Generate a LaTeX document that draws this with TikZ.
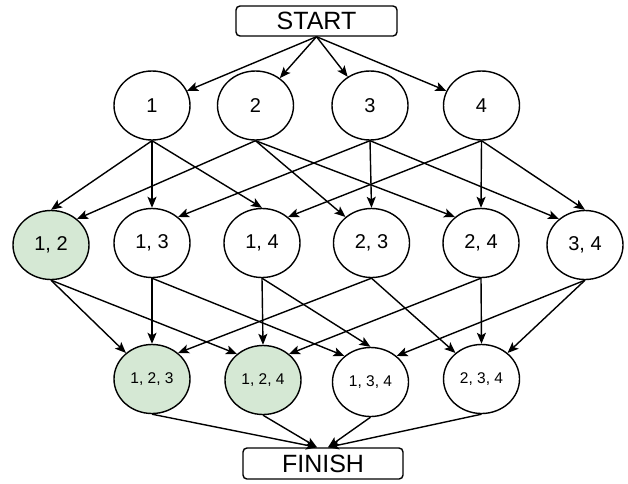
\documentclass[tikz,border=0pt]{standalone}
\usepackage{fontspec}
\setmainfont{Liberation Sans}
\usetikzlibrary{arrows.meta,shapes.geometric}
\definecolor{setgreen}{HTML}{D5E8D4}
\tikzset{
  every picture/.style={x=1pt,y=-1pt},
  stateell/.style={ellipse, draw=black, line width=1.4pt, fill=white, minimum width=76pt, minimum height=69pt, inner sep=0pt, font=\fontsize{20}{24}\selectfont},
  tripleell/.style={stateell, font=\fontsize{15.5}{18}\selectfont},
  chosen/.style={fill=setgreen},
  endbox/.style={rectangle, rounded corners=4pt, draw=black, line width=1.4pt, fill=white, inner sep=0pt, font=\fontsize{25}{28}\selectfont},
  link/.style={line width=1.4pt, -{Stealth[length=11pt,width=9pt,inset=2.5pt]}}
}
\begin{document}
\begin{tikzpicture}
\useasboundingbox (0,0) rectangle (628,483);
% boxes
\node[endbox, minimum width=161pt, minimum height=30pt] (start) at (316.5,21) {START};
\node[endbox, minimum width=160pt, minimum height=31pt] (fin) at (323,463.5) {FINISH};
% row 1
\node[stateell] (a1) at (152,105.5) {1};
\node[stateell] (a2) at (255.5,105.5) {2};
\node[stateell] (a3) at (370,105.5) {3};
\node[stateell] (a4) at (481.5,105.5) {4};
% row 2
\node[stateell, chosen] (b12) at (51,245) {1, 2};
\node[stateell] (b13) at (152,243) {1, 3};
\node[stateell] (b14) at (262,243) {1, 4};
\node[stateell] (b23) at (371.5,243) {2, 3};
\node[stateell] (b24) at (481,243) {2, 4};
\node[stateell] (b34) at (585,245) {3, 4};
% row 3
\node[tripleell, chosen] (c123) at (152,379) {1, 2, 3};
\node[tripleell, chosen] (c124) at (263,380) {1, 2, 4};
\node[tripleell] (c134) at (370.5,382) {1, 3, 4};
\node[tripleell] (c234) at (481.5,379) {2, 3, 4};
% start -> row 1
\foreach \t in {a1,a2,a3,a4} \draw[link] (start.south) -- (\t);
% row 1 -> row 2
\draw[link] (a1.south) -- (b12.north);
\draw[link] (a1.south) -- (b13.north);
\draw[link] (a1.south) -- (b14.north);
\draw[link] (a2.south) -- (b12.45);
\draw[link] (a2.south) -- (b23.135);
\draw[link] (a2.south) -- (b24.135);
\draw[link] (a3.south) -- (b13.45);
\draw[link] (a3.south) -- (b23.north);
\draw[link] (a3.south) -- (b34.135);
\draw[link] (a4.south) -- (b14.45);
\draw[link] (a4.south) -- (b24.north);
\draw[link] (a4.south) -- (b34.north);
% row 2 -> row 3
\draw[link] (b12.south) -- (c123.135);
\draw[link] (b12.south) -- (c124.135);
\draw[link] (b13.south) -- (c123.north);
\draw[link] (b13.south) -- (c134.135);
\draw[link] (b14.south) -- (c124.north);
\draw[link] (b14.south) -- (c134.north);
\draw[link] (b23.south) -- (c123.45);
\draw[link] (b23.south) -- (c234.135);
\draw[link] (b24.south) -- (c124.45);
\draw[link] (b24.south) -- (c234.north);
\draw[link] (b34.south) -- (c134.45);
\draw[link] (b34.south) -- (c234.45);
% row 3 -> finish
\draw[link] (c123.south) -- ([xshift=-6pt]fin.north);
\draw[link] (c124.south) -- ([xshift=-6pt]fin.north);
\draw[link] (c134.south) -- ([xshift=5pt]fin.north);
\draw[link] (c234.south) -- ([xshift=5pt]fin.north);
\end{tikzpicture}
\end{document}
